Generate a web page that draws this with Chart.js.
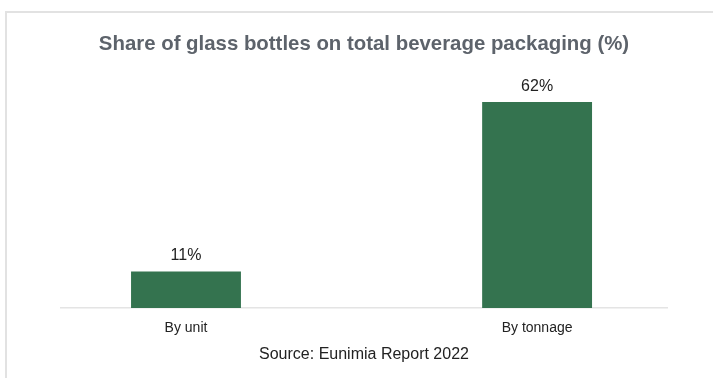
<!DOCTYPE html>
<html>
<head>
<meta charset="utf-8">
<script src="https://cdn.jsdelivr.net/npm/chart.js@4/dist/chart.umd.min.js"></script>
<style>
  html, body { margin: 0; padding: 0; background: #ffffff; overflow: hidden; }
  #frame { position: absolute; left: 5px; top: 11px; width: 800px; height: 500px;
           border-left: 2px solid #e2e2e2; border-top: 2px solid #e2e2e2; }
  #wrap { position: absolute; left: 0; top: 0; width: 713px; height: 378px; }
</style>
</head>
<body>
<div id="frame"></div>
<div id="wrap"><canvas id="chart" width="713" height="378"></canvas></div>
<script>
// Share of glass bottles in total beverage packaging
const categories = ['By unit', 'By tonnage'];
const shareValues = [11, 62];
const valueLabels = ['11%', '62%'];
const sourceNote = 'Source: Eunimia Report 2022';

const points = shareValues.map((v, i) => ({ x: i, y: v }));

// Writes each bar's value above it
const valueLabelPlugin = {
  id: 'valueLabels',
  afterDatasetsDraw(chart) {
    const ctx = chart.ctx;
    const meta = chart.getDatasetMeta(0);
    ctx.save();
    ctx.font = '16px "Liberation Sans", Arial, sans-serif';
    ctx.fillStyle = '#222222';
    ctx.textAlign = 'center';
    ctx.textBaseline = 'middle';
    meta.data.forEach((bar, i) => {
      ctx.fillText(valueLabels[i], bar.x, bar.y - 16);
    });
    ctx.restore();
  }
};

new Chart(document.getElementById('chart'), {
  type: 'bar',
  data: {
    datasets: [{
      data: points,
      backgroundColor: '#34734f',
      borderWidth: 0,
      categoryPercentage: 1,
      barPercentage: 0.313
    }]
  },
  options: {
    responsive: false,
    animation: false,
    layout: { padding: { left: 61, right: 46, top: 12, bottom: 14 } },
    plugins: {
      legend: { display: false },
      tooltip: { enabled: false },
      title: {
        display: true,
        text: 'Share of glass bottles on total beverage packaging (%)',
        color: '#5d636b',
        font: { family: '"Liberation Sans", Arial, sans-serif', size: 20.4, weight: 'bold' },
        padding: { top: 20, bottom: 39 }
      }
    },
    scales: {
      x: {
        type: 'linear',
        offset: false,
        min: -0.356,
        max: 1.37,
        afterBuildTicks(scale) {
          scale.ticks = categories.map((_, i) => ({ value: i }));
        },
        ticks: {
          callback: (v) => categories[v],
          color: '#222222',
          font: { family: '"Liberation Sans", Arial, sans-serif', size: 14 },
          padding: 12,
          maxRotation: 0
        },
        grid: { display: false, drawTicks: false },
        border: { display: true, color: '#e4e4e4', width: 1.5 },
        title: {
          display: true,
          text: sourceNote,
          color: '#222222',
          font: { family: '"Liberation Sans", Arial, sans-serif', size: 16 },
          padding: { top: -4, bottom: 0 }
        }
      },
      y: {
        display: false,
        min: 0,
        max: 64
      }
    }
  },
  plugins: [valueLabelPlugin]
});
</script>
</body>
</html>
